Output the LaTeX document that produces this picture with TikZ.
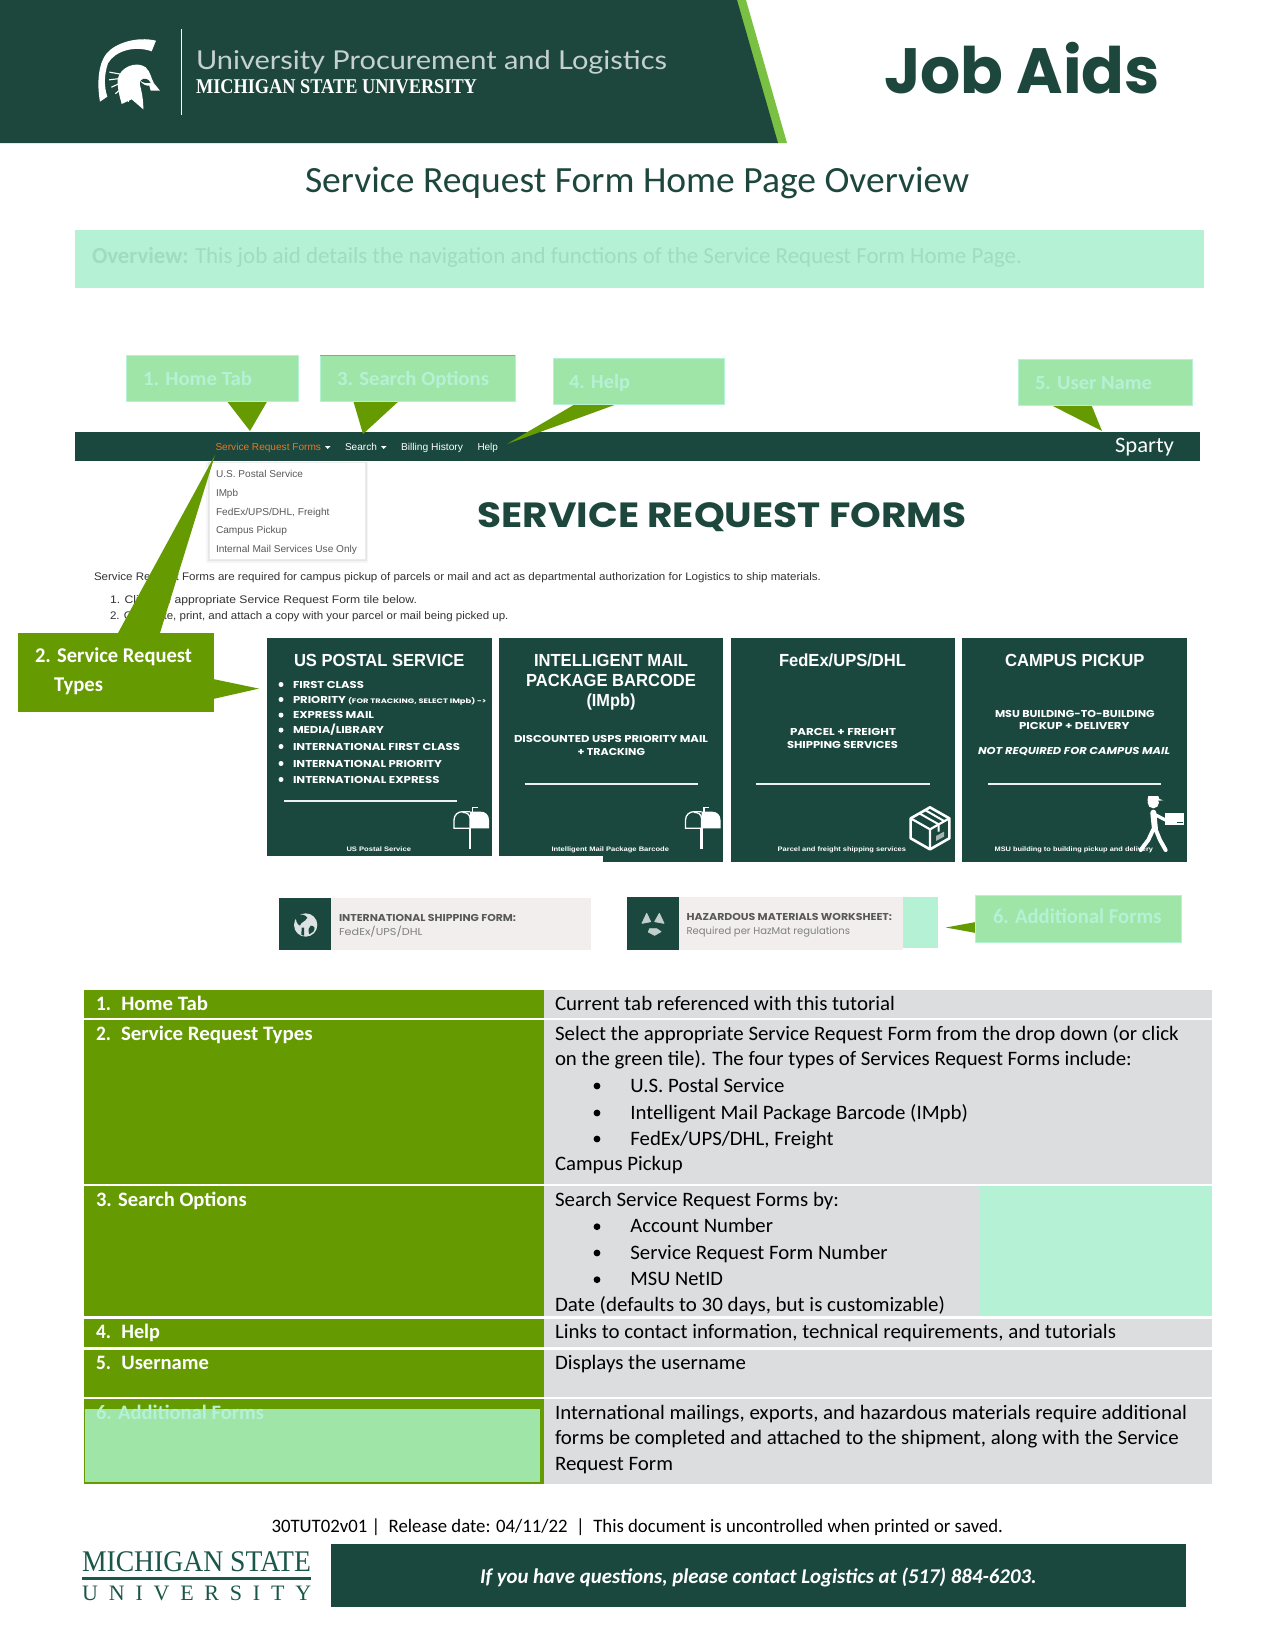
\documentclass[tikz,border=0pt]{standalone}
\usepackage{fontspec}
\usepackage{graphicx}
\setmainfont{Carlito}
\newfontfamily\libsans{Liberation Sans}
\newfontfamily\libserif{Liberation Serif}
\newfontfamily\poppinsf{Poppins}
\newfontfamily\latof{Lato}
\definecolor{hdr}{HTML}{1D473D}
\definecolor{nav}{HTML}{1A483E}
\definecolor{leaf}{HTML}{659B00}
\definecolor{mint}{HTML}{B5F2D5}
\definecolor{mintdk}{HTML}{9FDDBF}
\definecolor{lgreen}{HTML}{A0E5A8}
\definecolor{lime}{HTML}{7AC143}
\definecolor{tblgrey}{HTML}{DCDDDF}
\definecolor{pale}{HTML}{F2EEEE}
\definecolor{msu}{HTML}{1B5748}
\definecolor{orng}{HTML}{E87722}
\definecolor{haz}{HTML}{C0CFCB}
\newcount\nodeno
\newcommand\tlab[5]{\global\advance\nodeno by 1
  \node[anchor=base west,inner sep=0pt,outer sep=0pt,#4] (t\the\nodeno) at (#1,#2) {\resizebox{#3pt}{\height}{#5}};}
\tikzset{
  fs/.style={font=\fontsize{#1}{#1}\selectfont},
  body/.style={fs=20.5,text=black},
  tblhead/.style={fs=20.5,text=white,font=\fontsize{20.5}{20.5}\selectfont\bfseries},
  callt/.style={font=\fontsize{20}{20}\selectfont\bfseries,text=mint},
  callbox/.style={fill=lgreen,draw=mint,line width=.9pt},
  navt/.style={font=\libsans\fontsize{10}{10}\selectfont,text=white},
  menut/.style={font=\libsans\fontsize{10}{10}\selectfont,text=black!65},
  webt/.style={font=\libsans\fontsize{11}{11}\selectfont,text=black!80},
  tiletitle/.style={font=\libsans\bfseries\fontsize{17.5}{17.5}\selectfont,text=white},
  tileitem/.style={font=\poppinsf\bfseries\fontsize{10}{10}\selectfont,text=white},
  tilesub/.style={font=\poppinsf\bfseries\fontsize{10}{10}\selectfont,text=white},
  tilefoot/.style={font=\libsans\bfseries\fontsize{6.5}{6.5}\selectfont,text=white},
  formhead/.style={font=\poppinsf\bfseries\fontsize{10}{10}\selectfont,text=black!65},
  formsub/.style={font=\poppinsf\fontsize{10}{10}\selectfont,text=black!50},
  tilerule/.style={draw=white!92!nav,line width=2.6pt},
}
\newcommand\mailbox[1]{%
  \begin{scope}[shift={(#1,795)},x=.3333pt,y=-.3333pt]
    \fill[white] (78,50) -- (110,50) .. controls (125,50) and (135,60) .. (135,75) -- (135,100) -- (78,100) -- cycle;
    \draw[white,line width=1.3pt] (78,100) -- (30,100) -- (30,75) .. controls (30,60) and (42,50) .. (55,50) -- (78,50);
    \draw[white,line width=1.3pt] (78,100) -- (78,70) .. controls (78,58) and (68,52) .. (55,52);
    \draw[white,line width=2.4pt] (78,100) -- (78,163);
    \draw[white,line width=1.6pt] (85,65) -- (85,38) -- (101,38);
  \end{scope}}
\begin{document}
\begin{tikzpicture}[x=1pt,y=-1pt]
\useasboundingbox (0,0) rectangle (1275,1649);
\fill[white] (0,0) rectangle (1275,1649);
% header
\fill[lime] (736,0) -- (746,0) -- (787,143) -- (777,143) -- cycle;
\fill[hdr] (0,0) -- (737,0) -- (778,143) -- (0,143) -- cycle;
\begin{scope}[shift={(80,20)},x=.3333pt,y=-.3333pt]
  \fill[white] (60,245) .. controls (50,190) and (55,130) .. (80,100) .. controls (105,70) and (170,48) .. (228,62) -- (215,94) .. controls (165,76) and (105,92) .. (84,130) .. controls (72,165) and (72,200) .. (82,230) -- cycle;
  \foreach \a in {105,122,139,156,173,190} {\draw[white,line width=1.1pt] (165,170) ++(\a:40) -- ++(\a:38);}
  \fill[white] (113,178) .. controls (120,140) and (170,122) .. (197,142) .. controls (212,155) and (213,175) .. (222,190) -- (240,212) -- (212,212) -- (208,197) .. controls (198,198) and (186,192) .. (180,182) .. controls (176,195) and (190,215) .. (190,268) -- (155,238) -- (125,252) .. controls (118,225) and (112,205) .. (113,178) -- cycle;
  \fill[hdr] (182,182) .. controls (190,172) and (205,175) .. (212,188) .. controls (200,190) and (190,190) .. (182,182) -- cycle;
\end{scope}
\draw[white,line width=.8pt] (181,29) -- (181,115);
\tlab{196}{69}{471}{font=\latof\fontsize{26}{26}\selectfont,text=white!75!hdr}{University Procurement and Logistics}
\tlab{196}{93}{281}{font=\libserif\bfseries\fontsize{21}{21}\selectfont,text=white}{MICHIGAN STATE UNIVERSITY}
\tlab{884}{93}{276}{font=\poppinsf\bfseries\fontsize{64}{64}\selectfont,text=hdr}{Job Aids}
\tlab{305}{192}{664}{font=\fontsize{37}{37}\selectfont,text=hdr}{Service Request Form Home Page Overview}
% overview
\fill[mint] (75,230) rectangle (1204,288);
\tlab{92}{263}{96.6}{font=\fontsize{23}{23}\selectfont\bfseries,text=mintdk}{Overview:}
\tlab{195}{263}{827}{font=\fontsize{23}{23}\selectfont,text=mintdk}{This job aid details the navigation and functions of the Service Request Form Home Page.}
% navbar
\fill[nav] (75,432) rectangle (1200,461);
\tlab{215.5}{450}{105.5}{navt,text=orng}{Service Request Forms}
\fill[white] (325,446) -- (330.5,446) -- (327.7,449) -- cycle;
\tlab{345}{450}{32}{navt}{Search}
\fill[white] (381,446) -- (386.5,446) -- (383.7,449) -- cycle;
\tlab{401}{450}{62}{navt}{Billing History}
\tlab{477.5}{450}{20.5}{navt}{Help}
\tlab{1115}{452}{59}{font=\fontsize{22}{22}\selectfont,text=white}{Sparty}
% dropdown
\fill[black,opacity=.04] (206,462) rectangle (368,563);
\fill[black,opacity=.06] (207.5,462) rectangle (366.5,561);
\fill[white,draw=black!8,line width=.5pt] (209,462) rectangle (365,559);
\tlab{216}{477}{87}{menut}{U.S. Postal Service}
\tlab{216}{496}{22}{menut}{IMpb}
\tlab{216}{515}{113.5}{menut}{FedEx/UPS/DHL, Freight}
\tlab{216}{533}{71}{menut}{Campus Pickup}
\tlab{216}{552}{141}{menut}{Internal Mail Services Use Only}
% web heading and text
\tlab{477.5}{527}{489}{font=\poppinsf\bfseries\fontsize{35}{35}\selectfont,text=hdr}{SERVICE REQUEST FORMS}
\tlab{94}{580}{727}{webt}{Service Request Forms are required for campus pickup of parcels or mail and act as departmental authorization for Logistics to ship materials.}
\tlab{110}{603}{307}{webt}{1. Click the appropriate Service Request Form tile below.}
\tlab{110}{619}{398.5}{webt}{2. Complete, print, and attach a copy with your parcel or mail being picked up.}
% tiles
\fill[nav] (267,638) rectangle (491.5,856);
\fill[nav] (499,638) rectangle (723,856);
\fill[nav] (603,850) rectangle (723,862);
\fill[nav] (730.7,638) rectangle (955,862);
\fill[nav] (962,638) rectangle (1187,862);
% tile 1
\tlab{294}{666}{170.5}{tiletitle}{US POSTAL SERVICE}
\foreach \yy in {688,703,718.6,733.6,750,767,783} {\fill[white] (281,\yy-3.5) circle (2.5);}
\tlab{293}{688}{71}{tileitem}{FIRST CLASS}
\tlab{293}{703}{53}{tileitem}{PRIORITY}
\tlab{348}{703}{138.5}{tileitem,font=\poppinsf\bfseries\fontsize{6.5}{6.5}\selectfont}{(FOR TRACKING, SELECT IMpb) ->}
\tlab{293}{718.6}{81}{tileitem}{EXPRESS MAIL}
\tlab{293}{733.6}{91}{tileitem}{MEDIA/LIBRARY}
\tlab{293}{750}{167}{tileitem}{INTERNATIONAL FIRST CLASS}
\tlab{293}{767}{149}{tileitem}{INTERNATIONAL PRIORITY}
\tlab{293}{783}{146.5}{tileitem}{INTERNATIONAL EXPRESS}
\draw[tilerule] (284,801) -- (457,801);
\mailbox{444}
\tlab{346.5}{851}{64.5}{tilefoot}{US Postal Service}
% tile 2
\tlab{534}{666}{154}{tiletitle}{INTELLIGENT MAIL}
\tlab{526}{686}{170}{tiletitle}{PACKAGE BARCODE}
\tlab{586.5}{706}{49}{tiletitle}{(IMpb)}
\tlab{514}{742}{194}{tilesub}{DISCOUNTED USPS PRIORITY MAIL}
\tlab{577.5}{755}{67.5}{tilesub}{+ TRACKING}
\draw[tilerule] (524.5,784) -- (697.5,784);
\mailbox{675.5}
\tlab{551.5}{851}{117.5}{tilefoot}{Intelligent Mail Package Barcode}
% tile 3
\tlab{779}{666}{127}{tiletitle}{FedEx/UPS/DHL}
\tlab{790}{735}{106}{tilesub}{PARCEL + FREIGHT}
\tlab{787}{748}{111}{tilesub}{SHIPPING SERVICES}
\draw[tilerule] (756,784) -- (929.5,784);
\begin{scope}[shift={(900,790)},x=.3333pt,y=-.3333pt]
  \draw[white,line width=2.6pt,line join=round] (90,52) -- (148,85) -- (148,145) -- (90,178) -- (32,145) -- (32,85) -- cycle;
  \draw[white,line width=2.2pt] (32,85) -- (90,118) -- (148,85) (90,118) -- (90,178);
  \draw[white,line width=2pt] (75,60) -- (132,93) (58,70) -- (116,103) -- (116,125);
  \fill[white,opacity=.6] (108,138) -- (132,125) -- (132,140) -- (108,153) -- cycle;
\end{scope}
\tlab{777.7}{851}{128.3}{tilefoot}{Parcel and freight shipping services}
% tile 4
\tlab{1005}{666}{139.5}{tiletitle}{CAMPUS PICKUP}
\tlab{995}{717}{159.6}{tilesub}{MSU BUILDING-TO-BUILDING}
\tlab{1019}{729}{110.5}{tilesub}{PICKUP + DELIVERY}
\tlab{978}{754}{192}{tilesub,font=\poppinsf\bfseries\itshape\fontsize{10}{10}\selectfont}{NOT REQUIRED FOR CAMPUS MAIL}
\draw[tilerule] (988,784) -- (1161,784);
\tlab{994.6}{851}{158.4}{tilefoot}{MSU building to building pickup and delivery}
\begin{scope}[shift={(900,790)},x=.3333pt,y=-.3333pt]
  \fill[white] (760,38) circle (17);
  \fill[white] (743,28) -- (745,18) -- (775,18) -- (778,27) -- (790,31) -- (743,34) -- cycle;
  \draw[white,line width=6pt,line cap=round] (760,68) -- (765,118);
  \draw[white,line width=3.2pt,line cap=round] (762,72) -- (800,92);
  \draw[white,line width=4pt,line cap=round] (760,118) -- (745,150) -- (722,180);
  \draw[white,line width=4pt,line cap=round] (767,118) -- (780,150) -- (797,180);
  \fill[white] (796,70) rectangle (851,105);
  \fill[nav] (832,95) rectangle (848,100);
\end{scope}
% form banners
\fill[pale] (279,897.5) rectangle (590.6,950);
\fill[nav] (279,897.5) rectangle (330.6,950);
\begin{scope}[shift={(280,895)},x=.3333pt,y=-.3333pt]
  \fill[white!85!nav] (77,90) circle (35);
  \fill[nav] (50,62) .. controls (60,55) and (75,58) .. (82,68) .. controls (75,82) and (62,80) .. (60,92) .. controls (50,88) and (45,72) .. (50,62) -- cycle;
  \fill[nav] (92,92) .. controls (102,92) and (108,98) .. (100,110) -- (88,118) .. controls (84,106) and (84,98) .. (92,92) -- cycle;
  \fill[nav] (65,98) -- (72,98) -- (72,122) -- (64,120) -- cycle;
\end{scope}
\tlab{339}{921}{177}{formhead}{INTERNATIONAL SHIPPING FORM:}
\tlab{339}{935}{83.5}{formsub}{FedEx/UPS/DHL}
\fill[pale] (627,897) rectangle (903,950);
\fill[nav] (627,897) rectangle (678.5,950);
\fill[mint] (903,897) rectangle (938,947.5);
\begin{scope}[shift={(628,895)},x=.3333pt,y=-.3333pt]
  \filldraw[haz,line width=.8pt,line join=round] (56,55) -- (68,80) -- (42,85) -- cycle;
  \filldraw[haz,line width=.8pt,line join=round] (94,55) -- (108,85) -- (80,80) -- cycle;
  \filldraw[haz,line width=.8pt,line join=round] (65,101) -- (86,101) -- (99,110) -- (80,121) -- (61,111) -- cycle;
\end{scope}
\tlab{686.6}{920}{205.4}{formhead}{HAZARDOUS MATERIALS WORKSHEET:}
\tlab{686.6}{934}{163.4}{formsub}{Required per HazMat regulations}
% callouts
\fill[leaf] (226,400) -- (268,400) -- (250,431) -- cycle;
\fill[leaf] (353,400) -- (400,400) -- (363,434) -- cycle;
\fill[leaf] (577,403) -- (620,403) -- (507,444) -- cycle;
\fill[leaf] (1049,404) -- (1091,404) -- (1102,431) -- cycle;
\path[callbox] (126,355) rectangle (298,401);
\path[callbox] (320,355) rectangle (515,401);
\draw[draw=lgreen!60!orng!60!leaf,line width=.8pt] (320,355) -- (515,355);
\path[callbox] (553,358) rectangle (724,404);
\path[callbox] (1018,359) rectangle (1192,405);
\tlab{143}{385}{109}{callt}{1. Home Tab}
\tlab{337}{385}{152}{callt}{3. Search Options}
\tlab{569}{388}{61}{callt}{4. Help}
\tlab{1035}{389}{117}{callt}{5. User Name}
\fill[leaf] (118,633) -- (160,633) -- (215,455) -- cycle;
\fill[leaf] (213,679) -- (213,699) -- (259,688.6) -- cycle;
\fill[leaf] (17.5,632.5) rectangle (213.5,712);
\tlab{35}{662}{157}{font=\fontsize{21}{21}\selectfont\bfseries,text=white}{2. Service Request}
\tlab{54}{691}{49}{font=\fontsize{21}{21}\selectfont\bfseries,text=white}{Types}
\fill[leaf] (976,922) -- (976,933) -- (945.7,927.5) -- cycle;
\path[callbox] (975,895) rectangle (1181,942);
\tlab{993}{923.6}{168.5}{callt,font=\fontsize{21}{21}\selectfont\bfseries}{6. Additional Forms}
% table
\foreach \ya/\yb in {990/1017.7,1020/1184,1186/1316,1318.7/1346.7,1349.7/1396.7,1399/1483.7} {
  \fill[leaf] (84,\ya) rectangle (544,\yb);
  \fill[tblgrey] (544,\ya) rectangle (1211.7,\yb);
}
\fill[mint] (978.7,1186.3) rectangle (1211.7,1315);
\fill[lgreen] (85,1409) rectangle (540,1482);
\tlab{96}{1010}{15}{tblhead}{1.}
\tlab{121.3}{1010}{86.7}{tblhead}{Home Tab}
\tlab{96}{1040}{15}{tblhead}{2.}
\tlab{121}{1040}{191.7}{tblhead}{Service Request Types}
\tlab{96}{1206}{150.7}{tblhead}{3. Search Options}
\tlab{96}{1338}{15}{tblhead}{4.}
\tlab{121.3}{1338}{38.7}{tblhead}{Help}
\tlab{96}{1369.7}{15}{tblhead}{5.}
\tlab{121.3}{1369.7}{87.7}{tblhead}{Username}
\tlab{96}{1419}{168}{tblhead,text=mint}{6. Additional Forms}
\tlab{555}{1010}{340}{body}{Current tab referenced with this tutorial}
\tlab{555}{1040}{623.7}{body}{Select the appropriate Service Request Form from the drop down (or click}
\tlab{555}{1065.7}{576.8}{body}{on the green tile). The four types of Services Request Forms include:}
\foreach \yy in {1092,1119,1145,1232.7,1259,1285.7} {\fill[black] (597,\yy-6) circle (3.4);}
\tlab{630.4}{1092}{154}{body}{U.S. Postal Service}
\tlab{630.4}{1119}{337.6}{body}{Intelligent Mail Package Barcode (IMpb)}
\tlab{630.4}{1145}{203.2}{body}{FedEx/UPS/DHL, Freight}
\tlab{555}{1170.7}{127.7}{body}{Campus Pickup}
\tlab{555}{1206}{284}{body}{Search Service Request Forms by:}
\tlab{630.4}{1232.7}{142.6}{body}{Account Number}
\tlab{630.4}{1259}{257.2}{body}{Service Request Form Number}
\tlab{630.4}{1285.7}{92.6}{body}{MSU NetID}
\tlab{555}{1311}{390}{body}{Date (defaults to 30 days, but is customizable)}
\tlab{555}{1338}{561}{body}{Links to contact information, technical requirements, and tutorials}
\tlab{555}{1369.7}{191}{body}{Displays the username}
\tlab{555}{1419}{632}{body}{International mailings, exports, and hazardous materials require additional}
\tlab{555}{1444}{623.7}{body}{forms be completed and attached to the shipment, along with the Service}
\tlab{555}{1470}{118}{body}{Request Form}
% footer
\tlab{271.5}{1532.7}{731.5}{body,fs=19}{30TUT02v01 |\ \ Release date: 04/11/22\ \ |\ \ This document is uncontrolled when printed or saved.}
\tlab{82}{1571.7}{229}{font=\libserif\fontsize{30}{30}\selectfont,text=msu}{MICHIGAN STATE}
\fill[msu] (82,1577) rectangle (311,1579.5);
\global\advance\nodeno by 1
\node[anchor=base west,inner sep=0pt,font=\libserif\fontsize{22}{22}\selectfont,text=msu] (t\the\nodeno) at (82,1600) {\makebox[229pt][s]{U\hfill N\hfill I\hfill V\hfill E\hfill R\hfill S\hfill I\hfill T\hfill Y}};
\fill[nav] (331,1544) rectangle (1185.5,1606.7);
\tlab{480}{1583}{556.6}{font=\fontsize{21}{21}\selectfont\bfseries\itshape,text=white}{If you have questions, please contact Logistics at (517) 884-6203.}
\end{tikzpicture}
\end{document}
